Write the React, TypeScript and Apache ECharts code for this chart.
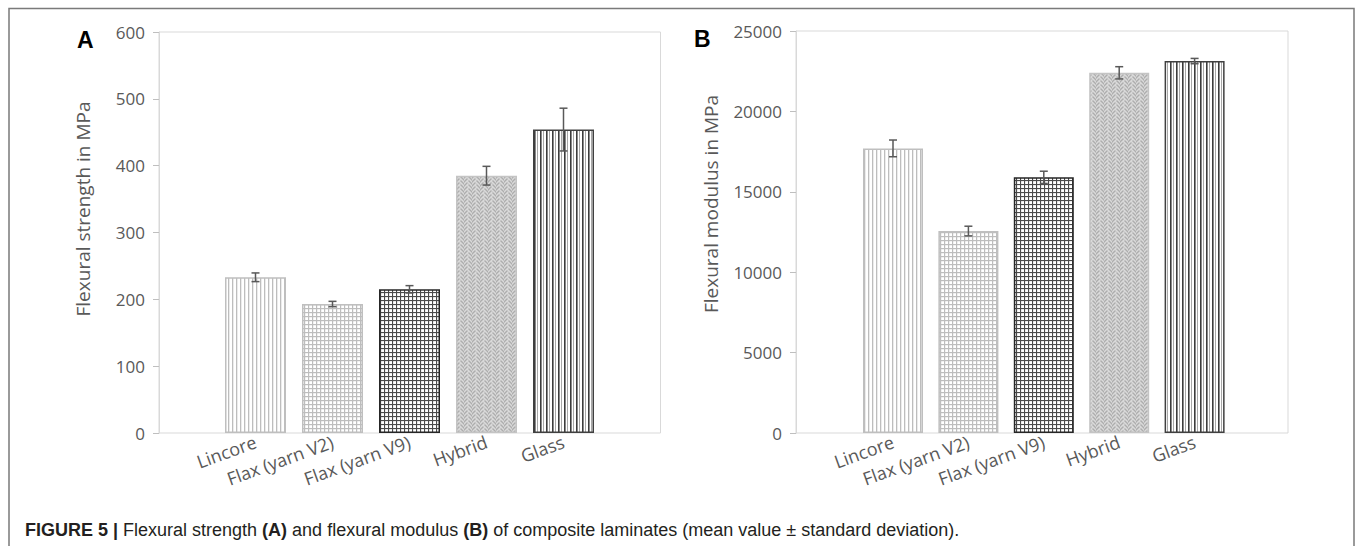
import React, { useEffect, useRef } from 'react';
import * as echarts from 'echarts';

const categories = ['Lincore', 'Flax (yarn V2)', 'Flax (yarn V9)', 'Hybrid', 'Glass'];
const strengthMean = [233, 193, 215, 385, 454];
const strengthSd = [6.5, 4, 5.5, 14, 32];
const modulusMean = [17700, 12560, 15900, 22400, 23130];
const modulusSd = [520, 300, 380, 380, 165];
const strengthAxis = [0, 600, 100];
const modulusAxis = [0, 25000, 5000];
const titles = ['Flexural strength in MPa', 'Flexural modulus in MPa'];

const FONT = "'Open Sans', sans-serif";
const GRAY = '#595959';

function tile(w: number, h: number, draw: (ctx: CanvasRenderingContext2D) => void) {
  const c = document.createElement('canvas');
  c.width = w;
  c.height = h;
  const ctx = c.getContext('2d') as CanvasRenderingContext2D;
  draw(ctx);
  return { image: c, repeat: 'repeat', imageWidth: w, imageHeight: h } as any;
}

function buildStyles() {
  const vLight = tile(4, 4, (ctx) => {
    ctx.fillStyle = '#ffffff';
    ctx.fillRect(0, 0, 4, 4);
    ctx.fillStyle = '#bdbdbd';
    ctx.fillRect(0, 0, 1.3, 4);
  });
  const gridLight = tile(4, 4, (ctx) => {
    ctx.fillStyle = '#ffffff';
    ctx.fillRect(0, 0, 4, 4);
    ctx.fillStyle = '#bdbdbd';
    ctx.fillRect(0, 0, 1.2, 4);
    ctx.fillRect(0, 0, 4, 1.2);
  });
  const gridDark = tile(4, 4, (ctx) => {
    ctx.fillStyle = '#ffffff';
    ctx.fillRect(0, 0, 4, 4);
    ctx.fillStyle = '#4a4a4a';
    ctx.fillRect(0, 0, 1.1, 4);
    ctx.fillRect(0, 0, 4, 1.1);
  });
  const herring = tile(8, 8, (ctx) => {
    ctx.fillStyle = '#adadad';
    ctx.fillRect(0, 0, 8, 8);
    ctx.strokeStyle = '#dadada';
    ctx.lineWidth = 1.5;
    ctx.lineCap = 'square';
    for (let y = -8; y <= 16; y += 8) {
      ctx.beginPath();
      ctx.moveTo(0, y + 4);
      ctx.lineTo(4, y);
      ctx.moveTo(0, y + 8);
      ctx.lineTo(4, y + 4);
      ctx.moveTo(4, y + 2);
      ctx.lineTo(8, y + 6);
      ctx.moveTo(4, y + 6);
      ctx.lineTo(8, y + 10);
      ctx.stroke();
    }
  });
  const vDark = tile(6, 6, (ctx) => {
    ctx.fillStyle = '#ffffff';
    ctx.fillRect(0, 0, 6, 6);
    ctx.fillStyle = '#3c3c3c';
    ctx.fillRect(0, 0, 1.6, 6);
    ctx.fillStyle = '#a8a8a8';
    ctx.fillRect(3, 0, 1, 6);
  });
  return [
    { color: vLight, borderColor: '#bfbfbf', borderWidth: 1.5 },
    { color: gridLight, borderColor: '#bfbfbf', borderWidth: 1.5 },
    { color: gridDark, borderColor: '#262626', borderWidth: 1.5 },
    { color: herring, borderColor: '#c4c4c4', borderWidth: 1.5 },
    { color: vDark, borderColor: '#404040', borderWidth: 1.5 },
  ];
}

function errorRender(params: any, api: any) {
  const x = api.value(0);
  const lo = api.coord([x, api.value(1)]);
  const hi = api.coord([x, api.value(2)]);
  const half = 4;
  const style = { stroke: GRAY, lineWidth: 1.5, fill: 'none' };
  return {
    type: 'group',
    children: [
      { type: 'line', shape: { x1: lo[0], y1: lo[1], x2: hi[0], y2: hi[1] }, style },
      { type: 'line', shape: { x1: lo[0] - half, y1: lo[1], x2: lo[0] + half, y2: lo[1] }, style },
      { type: 'line', shape: { x1: hi[0] - half, y1: hi[1], x2: hi[0] + half, y2: hi[1] }, style },
    ],
  };
}

export default function App() {
  const ref = useRef<HTMLDivElement>(null);
  useEffect(() => {
    if (!ref.current) return;
    const chart = echarts.init(ref.current, null, { renderer: 'svg' });
    const styles = buildStyles();
    const bottom = 113;

    const frameGrid = (left: number, right: number, t: number) => ({
      left, right, top: t, bottom, show: true, borderColor: '#d9d9d9', borderWidth: 1, backgroundColor: 'transparent',
    });

    const valueAxis = (gridIndex: number, ax: number[], visible: boolean) => ({
      type: 'value',
      gridIndex,
      min: ax[0],
      max: ax[1],
      interval: ax[2],
      show: visible,
      axisLine: { show: true, lineStyle: { color: '#d9d9d9', width: 1 } },
      axisTick: { show: true, length: 6, lineStyle: { color: '#bfbfbf' } },
      axisLabel: { fontFamily: FONT, fontSize: 17, color: GRAY, margin: 14, formatter: (v: number) => String(v) },
      splitLine: { show: false },
    });

    const catAxis = (gridIndex: number, withLabels: boolean) => ({
      type: 'category',
      gridIndex,
      data: withLabels ? categories : [''],
      axisLine: { show: false },
      axisTick: { show: false },
      axisLabel: withLabels
        ? { show: true, interval: 0, rotate: 20, fontFamily: FONT, fontSize: 18, color: GRAY, margin: 8 }
        : { show: false },
    });

    const barData = (vals: number[]) => vals.map((v, i) => ({ value: v, itemStyle: styles[i] }));
    const errData = (m: number[], s: number[]) => m.map((v, i) => [i, v - s[i], v + s[i]]);

    const titleText = (text: string, x: number, y: number) => ({
      type: 'text', x, y, rotation: Math.PI / 2,
      style: { text, fontFamily: FONT, fontSize: 19, fill: GRAY, align: 'center', verticalAlign: 'middle' },
    });

    chart.setOption({
      animation: false,
      grid: [
        frameGrid(159, 694.5, 32),
        { left: 217, right: 753, top: 32, bottom },
        frameGrid(796, 67, 31),
        { left: 855.3, right: 122.7, top: 31, bottom },
      ],
      xAxis: [catAxis(0, false), catAxis(1, true), catAxis(2, false), catAxis(3, true)],
      yAxis: [
        valueAxis(0, strengthAxis, true),
        valueAxis(1, strengthAxis, false),
        valueAxis(2, modulusAxis, true),
        valueAxis(3, modulusAxis, false),
      ],
      series: [
        { type: 'bar', xAxisIndex: 1, yAxisIndex: 1, barWidth: 61, data: barData(strengthMean) },
        { type: 'custom', xAxisIndex: 1, yAxisIndex: 1, renderItem: errorRender, data: errData(strengthMean, strengthSd), z: 5 },
        { type: 'bar', xAxisIndex: 3, yAxisIndex: 3, barWidth: 60, data: barData(modulusMean) },
        { type: 'custom', xAxisIndex: 3, yAxisIndex: 3, renderItem: errorRender, data: errData(modulusMean, modulusSd), z: 5 },
      ],
      graphic: [
        { type: 'rect', shape: { x: 9, y: 8.5, width: 1345, height: 600 }, style: { fill: 'none', stroke: '#7a7a7a', lineWidth: 1.5 }, silent: true },
        titleText(titles[0], 83, 209),
        titleText(titles[1], 711, 204),
        { type: 'text', x: 77, y: 40, style: { text: 'A', fontFamily: 'Liberation Sans', fontWeight: 'bold', fontSize: 23, fill: '#000', verticalAlign: 'middle' } },
        { type: 'text', x: 694, y: 39, style: { text: 'B', fontFamily: 'Liberation Sans', fontWeight: 'bold', fontSize: 23, fill: '#000', verticalAlign: 'middle' } },
        {
          type: 'text', x: 25, y: 530,
          style: {
            text: '{b|FIGURE 5 |} Flexural strength {b|(A)} and flexural modulus {b|(B)} of composite laminates (mean value ± standard deviation).',
            fontFamily: 'Liberation Sans', fontSize: 18, fill: '#231f20', verticalAlign: 'middle',
            rich: { b: { fontFamily: 'Liberation Sans', fontSize: 18, fontWeight: 'bold', fill: '#231f20' } },
          },
        },
      ],
    });
    return () => chart.dispose();
  }, []);
  return <div ref={ref} style={{ position: 'fixed', left: 0, top: 0, width: 1355, height: 546, background: '#fff' }} />;
}
